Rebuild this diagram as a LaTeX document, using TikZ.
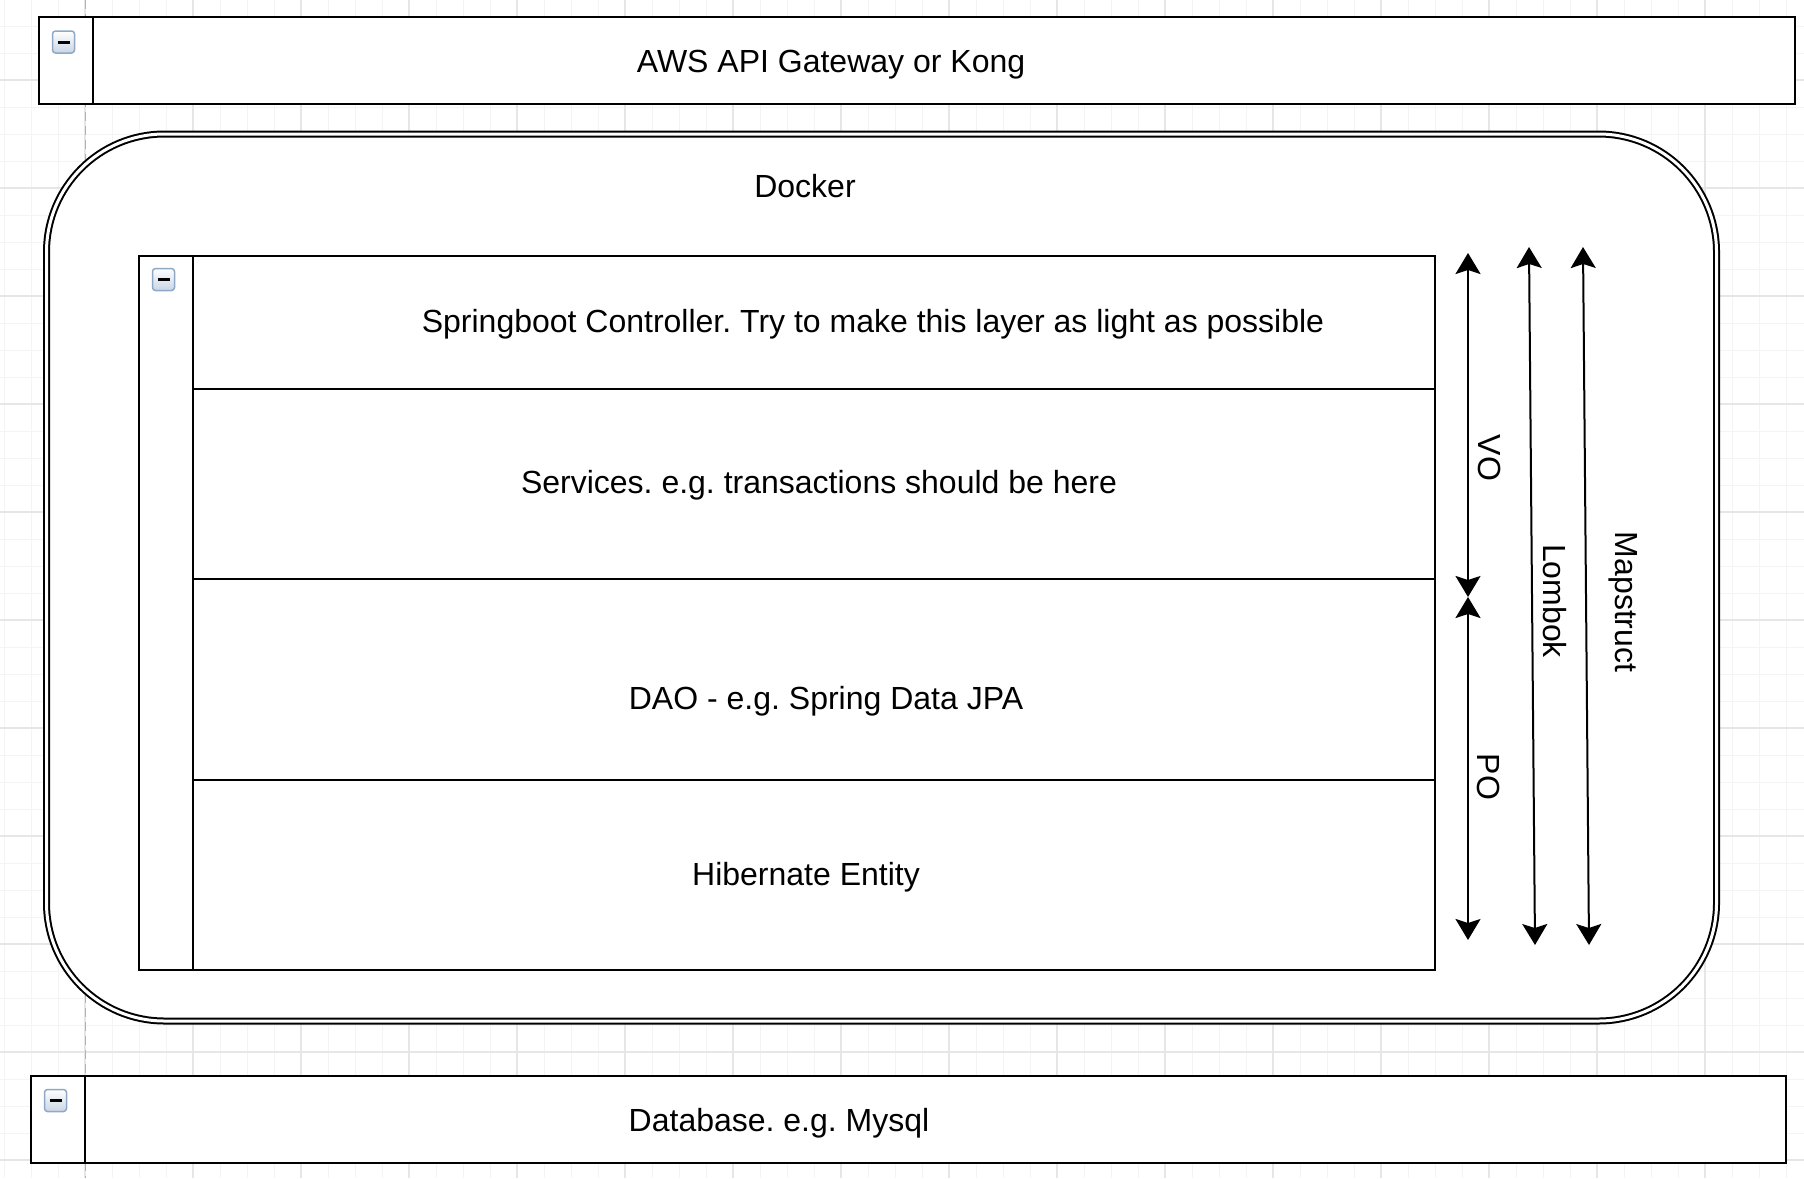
\documentclass[tikz,border=0pt]{standalone}
\usepackage{fontspec}
\setmainfont{Liberation Sans}
\usetikzlibrary{arrows.meta}
\definecolor{gridminor}{HTML}{F4F4F4}
\definecolor{gridmajor}{HTML}{E6E6E6}
\definecolor{iconborder}{HTML}{8FA8C8}
\definecolor{iconfill}{HTML}{C9D5E5}
\frenchspacing
\begin{document}
\begin{tikzpicture}[x=1pt,y=-1pt,
  box/.style={draw=black, line width=2pt, inner sep=0pt, outer sep=0pt},
  sep/.style={draw=black, line width=2pt},
  lbl/.style={font=\fontsize{32}{38}\selectfont\frenchspacing, text=black, inner sep=0pt, anchor=base},
  vlbl/.style={lbl, rotate=-90},
  dblarrow/.style={{Stealth[length=21pt,width=25pt,inset=4pt]}-{Stealth[length=21pt,width=25pt,inset=4pt]}, line width=2pt, draw=black},
  icon/.style={draw=iconborder, line width=1.5pt, rounded corners=3pt, top color=white, bottom color=iconfill, minimum width=22pt, minimum height=22pt, inner sep=0pt},
  minus/.style={line width=3pt, draw=black}
]
\useasboundingbox (0,0) rectangle (1804,1178);
\fill[white] (0,0) rectangle (1804,1178);
% background grid
\foreach \x in {4,31,...,1804} \draw[gridminor, line width=1pt] (\x,0) -- (\x,1178);
\foreach \y in {26,53,...,1178} \draw[gridminor, line width=1pt] (0,\y) -- (1804,\y);
\foreach \x in {85,193,...,1804} \draw[gridmajor, line width=1.2pt] (\x,0) -- (\x,1178);
\foreach \y in {80,188,...,1178} \draw[gridmajor, line width=1.2pt] (0,\y) -- (1804,\y);
% guide
\draw[gray!60, line width=1pt, dash pattern=on 9pt off 5pt] (85,0) -- (85,1178);

% top box
\node[box, fill=white, minimum width=1756pt, minimum height=87pt, anchor=north west] (aws) at (39,17) {};
\draw[sep] (93,17) -- (93,104);
\node[icon] (awsicon) at (63.5,42) {};
\draw[minus] ([xshift=-6pt]awsicon.center) -- ([xshift=6pt]awsicon.center);
\node[lbl] (awstext) at (831,72) {AWS API Gateway or Kong};

% docker
\node[draw=black, fill=white, double=white, double distance=3pt, line width=2pt, rounded corners=118pt,
      minimum width=1670pt, minimum height=887pt, inner sep=0pt] (docker) at (881.5,577.5) {};
\node[lbl] (dockertext) at (805,197) {Docker};

% inner container
\node[box, fill=white, minimum width=1296pt, minimum height=714pt, anchor=north west] (app) at (139,256) {};
\draw[sep] (193,256) -- (193,970);
\draw[sep] (193,389) -- (1435,389);
\draw[sep] (193,579) -- (1435,579);
\draw[sep] (193,780) -- (1435,780);
\node[icon] (appicon) at (163.5,279.5) {};
\draw[minus] ([xshift=-6pt]appicon.center) -- ([xshift=6pt]appicon.center);
\node[lbl] (ctrl) at (873,332) {Springboot Controller. Try to make this layer as light as possible};
\node[lbl] (svc) at (819,493) {Services. e.g. transactions should be here};
\node[lbl] (dao) at (826,709) {DAO - e.g. Spring Data JPA};
\node[lbl] (ent) at (806,885) {Hibernate Entity};

% arrows
\coordinate (vo1) at (1468,253);
\coordinate (vo2) at (1468,597);
\coordinate (po2) at (1468,940);
\coordinate (lb1) at (1529,247);
\coordinate (lb2) at (1535,945);
\coordinate (ms1) at (1583,247);
\coordinate (ms2) at (1589,945);
\draw[dblarrow] (vo1) -- (vo2);
\draw[dblarrow] (vo2) -- (po2);
\draw[dblarrow] (lb1) -- (lb2);
\draw[dblarrow] (ms1) -- (ms2);
\node[vlbl] (volbl) at (1478,458) {VO};
\node[vlbl] (polbl) at (1477,777) {PO};
\node[vlbl] (lblbl) at (1543,601) {Lombok};
\node[vlbl] (mslbl) at (1615,602) {Mapstruct};

% bottom box
\node[box, fill=white, minimum width=1755pt, minimum height=87pt, anchor=north west] (db) at (31,1076) {};
\draw[sep] (85,1076) -- (85,1163);
\node[icon] (dbicon) at (55.5,1100.5) {};
\draw[minus] ([xshift=-6pt]dbicon.center) -- ([xshift=6pt]dbicon.center);
\node[lbl] (dbtext) at (779,1131) {Database. e.g. Mysql};
\end{tikzpicture}
\end{document}
